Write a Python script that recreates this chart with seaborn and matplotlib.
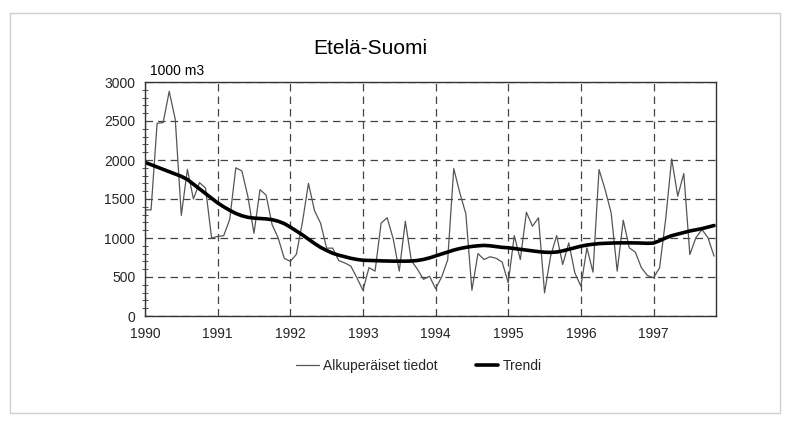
import numpy as np
import pandas as pd
import matplotlib
matplotlib.use("Agg")
import matplotlib.pyplot as plt
from matplotlib.ticker import MultipleLocator
from matplotlib.patches import Rectangle
import seaborn as sns

# ---- data ----
years = [1990, 1991, 1992, 1993, 1994, 1995, 1996, 1997]
y_ticks = [0, 500, 1000, 1500, 2000, 2500, 3000]

original = [
    1360, 1360, 2470, 2480, 2880, 2520, 1290, 1880, 1500, 1710, 1640, 1000,   # 1990
    1020, 1030, 1240, 1900, 1860, 1530, 1060, 1620, 1550, 1170, 1000, 740,    # 1991
    700, 790, 1200, 1700, 1350, 1190, 870, 870, 710, 680, 640, 490,           # 1992
    330, 620, 575, 1190, 1260, 990, 575, 1215, 710, 600, 470, 510,            # 1993
    350, 500, 720, 1890, 1580, 1310, 330, 800, 724, 760, 740, 690,            # 1994
    426, 1030, 724, 1331, 1151, 1259, 297, 767, 1032, 660, 938, 554,          # 1995
    382, 874, 562, 1878, 1622, 1323, 575, 1228, 874, 818, 618, 519,           # 1996
    490, 618, 1237, 2015, 1536, 1827, 788, 1003, 1109, 1003, 767,             # 1997
]

trend = [
    1970, 1940, 1910, 1880, 1850, 1820, 1790, 1750, 1690, 1630, 1570, 1510,
    1450, 1400, 1355, 1315, 1285, 1265, 1255, 1250, 1245, 1235, 1215, 1185,
    1140, 1090, 1040, 985, 930, 880, 840, 805, 780, 760, 740, 725,
    715, 712, 710, 707, 705, 703, 703, 703, 705, 712, 725, 745,
    770, 795, 820, 845, 865, 880, 892, 900, 905, 900, 890, 880,
    875, 865, 855, 845, 835, 825, 818, 815, 820, 835, 855, 875,
    895, 910, 920, 928, 932, 935, 937, 938, 938, 937, 935, 932,
    935, 965, 1000, 1030, 1050, 1070, 1090, 1105, 1120, 1140, 1160,
]

labels = ["Alkuperäiset tiedot", "Trendi"]
title = "Etelä-Suomi"
unit = "1000 m3"

# ---- build frame ----
t = 1990 + np.arange(len(original)) / 12.0
df = pd.DataFrame({"t": t, "orig": original, "trend": trend})

sns.set_theme(style="white")
FONT = ["Liberation Sans Narrow", "Liberation Sans", "DejaVu Sans"]
plt.rcParams["font.family"] = FONT

fig = plt.figure(figsize=(7.9, 4.23), dpi=100)
fig.patch.set_facecolor("white")
fig.patches.append(Rectangle((10 / 790, 10 / 423), 770 / 790, 400 / 423,
                             transform=fig.transFigure, fill=False,
                             edgecolor="#cfcfcf", linewidth=1.0))

ax = fig.add_axes([145 / 790, 1 - 316 / 423, (716 - 145) / 790, (316 - 82) / 423])

sns.lineplot(data=df, x="t", y="orig", ax=ax, color="#555555", linewidth=0.9,
             label=labels[0])
sns.lineplot(data=df, x="t", y="trend", ax=ax, color="black", linewidth=2.6,
             label=labels[1])

ax.set_xlim(1990, 1997.86)
ax.set_ylim(0, 3000)
ax.set_xticks(years)
ax.set_xticklabels([str(y) for y in years])
ax.set_yticks(y_ticks)
ax.set_yticklabels([str(v) for v in y_ticks])
ax.yaxis.set_minor_locator(MultipleLocator(100))
ax.set_xlabel("")
ax.set_ylabel("")

ax.grid(True, which="major", axis="both", color="#444444", linestyle=(0, (6, 4)),
        linewidth=0.9)
ax.set_axisbelow(True)

for s in ax.spines.values():
    s.set_visible(True)
    s.set_color("#333333")
    s.set_linewidth(1.0)

ax.tick_params(axis="both", which="major", direction="out", length=4, width=0.8,
               color="#333333", labelsize=10, pad=3)
ax.tick_params(axis="y", which="minor", direction="inout", length=4, width=0.6,
               color="#333333", left=True)
ax.tick_params(axis="x", which="major", length=5)
for lbl in ax.get_xticklabels() + ax.get_yticklabels():
    lbl.set_family(FONT)

leg = ax.legend(loc="upper center", bbox_to_anchor=(0.48, -0.13), ncol=2,
                frameon=False, fontsize=10, handlelength=1.6, columnspacing=2.8,
                handletextpad=0.3)
for txt in leg.get_texts():
    txt.set_family(FONT)

fig.text(370 / 790, 1 - 48 / 423, title, ha="center", va="center", fontsize=15,
         family=FONT, color="black")
fig.text(150 / 790, 1 - 71 / 423, unit, ha="left", va="center", fontsize=10,
         family=FONT, color="black")

fig.savefig("out.png", dpi=100, facecolor="white")
